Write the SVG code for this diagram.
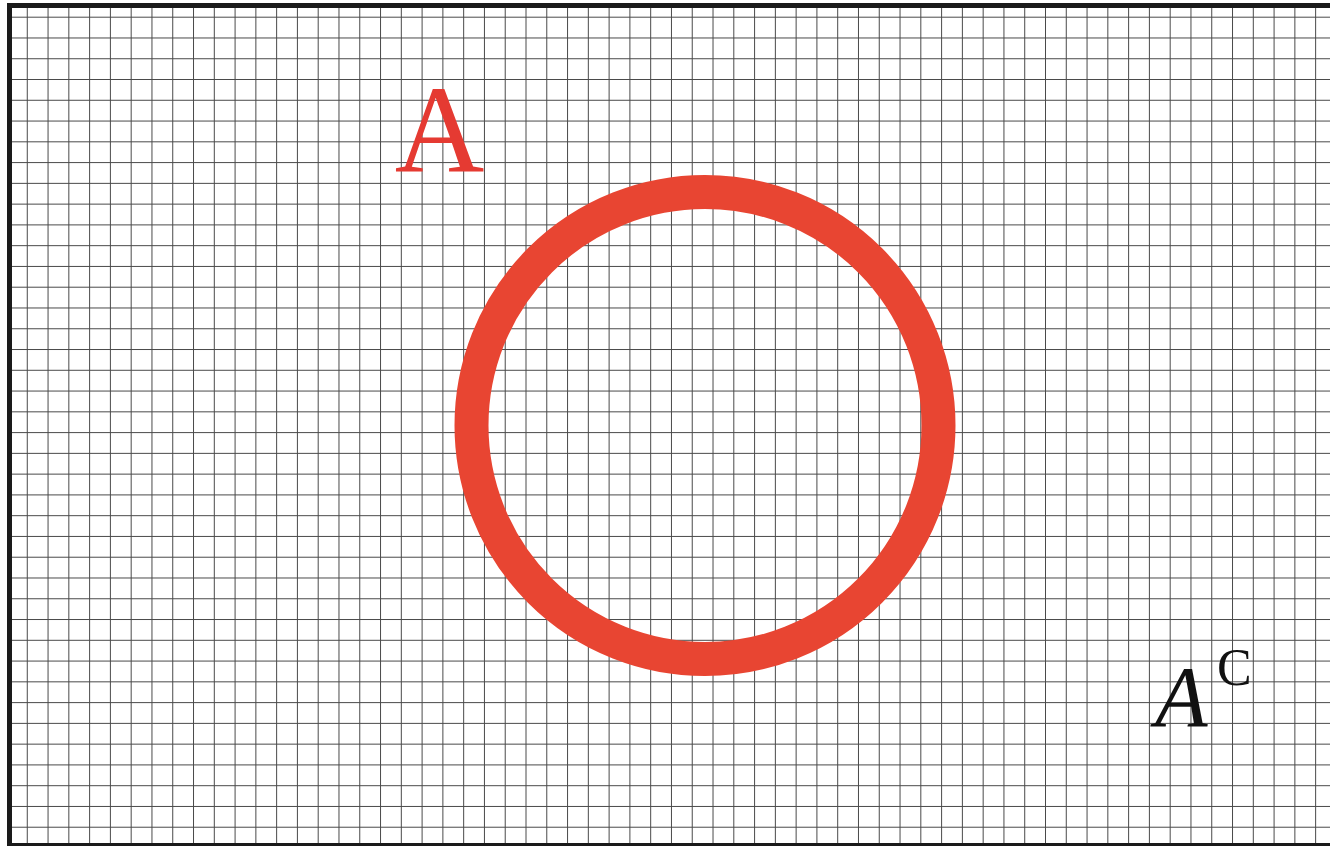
<svg xmlns="http://www.w3.org/2000/svg" width="1330" height="846" viewBox="0 0 1330 846">
<style>
.grid{stroke:#4a4a4a;stroke-width:1;fill:none}
.frame{stroke:#1a1a1a;fill:none}
.ring{fill:none;stroke:#E84532;stroke-width:34}
.lblA{font-family:"Liberation Serif",serif;font-size:124px;fill:#E53A32}
.lblC{font-family:"Liberation Serif",serif;fill:#111}
</style>
<rect width="1330" height="846" fill="#ffffff"/>
<g id="grid">
<path class="grid" d="M27.28 8V844M48.06 8V844M68.84 8V844M89.62 8V844M110.4 8V844M131.18 8V844M151.96 8V844M172.74 8V844M193.52 8V844M214.3 8V844M235.08 8V844M255.86 8V844M276.64 8V844M297.42 8V844M318.2 8V844M338.98 8V844M359.76 8V844M380.54 8V844M401.32 8V844M422.1 8V844M442.88 8V844M463.66 8V844M484.44 8V844M505.22 8V844M526 8V844M546.78 8V844M567.56 8V844M588.34 8V844M609.12 8V844M629.9 8V844M650.68 8V844M671.46 8V844M692.24 8V844M713.02 8V844M733.8 8V844M754.58 8V844M775.36 8V844M796.14 8V844M816.92 8V844M837.7 8V844M858.48 8V844M879.26 8V844M900.04 8V844M920.82 8V844M941.6 8V844M962.38 8V844M983.16 8V844M1003.94 8V844M1024.72 8V844M1045.5 8V844M1066.28 8V844M1087.06 8V844M1107.84 8V844M1128.62 8V844M1149.4 8V844M1170.18 8V844M1190.96 8V844M1211.74 8V844M1232.52 8V844M1253.3 8V844M1274.08 8V844M1294.86 8V844M1315.64 8V844"/>
<path class="grid" d="M10 17.2H1330M10 37.97H1330M10 58.74H1330M10 79.51H1330M10 100.28H1330M10 121.05H1330M10 141.82H1330M10 162.59H1330M10 183.36H1330M10 204.13H1330M10 224.9H1330M10 245.67H1330M10 266.44H1330M10 287.21H1330M10 307.98H1330M10 328.75H1330M10 349.52H1330M10 370.29H1330M10 391.06H1330M10 411.83H1330M10 432.6H1330M10 453.37H1330M10 474.14H1330M10 494.91H1330M10 515.68H1330M10 536.45H1330M10 557.22H1330M10 577.99H1330M10 598.76H1330M10 619.53H1330M10 640.3H1330M10 661.07H1330M10 681.84H1330M10 702.61H1330M10 723.38H1330M10 744.15H1330M10 764.92H1330M10 785.69H1330M10 806.46H1330M10 827.23H1330"/>
</g>
<g id="frame">
<path class="frame" stroke-width="5" d="M9.5 846V5.5H1330"/>
<path class="frame" stroke-width="3" d="M8 844.5H1330"/>
</g>
<g id="setA">
<circle class="ring" cx="705" cy="425.5" r="233.5"/>
</g>
<g id="labelA">
<text class="lblA" x="439.5" y="172" text-anchor="middle">A</text>
</g>
<g id="labelAc">
<text class="lblC" x="1155" y="726" font-size="86" font-style="italic">A</text>
<text class="lblC" x="1217" y="685" font-size="52">C</text>
</g>
</svg>
